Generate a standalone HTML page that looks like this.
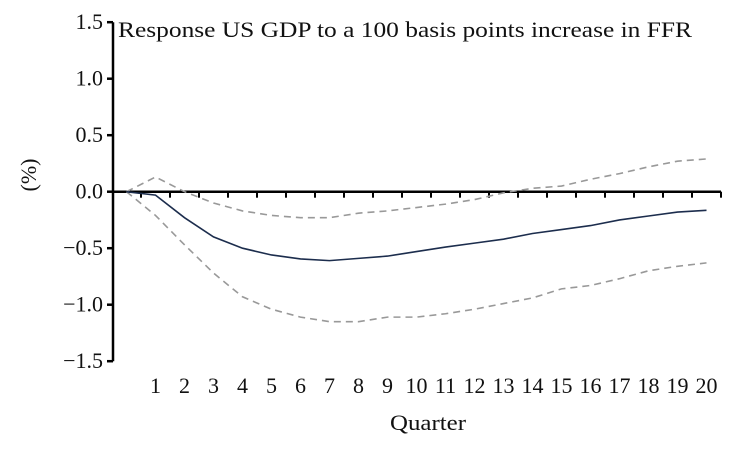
<!DOCTYPE html>
<html><head><meta charset="utf-8"><style>
html,body{margin:0;padding:0;background:#fff;}
svg text{font-family:"Liberation Serif",serif;fill:#111;}
</style></head><body>
<svg id="chart" width="756" height="451" viewBox="0 0 756 451">
<text x="118" y="37" font-size="22" textLength="574" lengthAdjust="spacingAndGlyphs">Response US GDP to a 100 basis points increase in FFR</text>
<text transform="translate(36,175) rotate(-90)" font-size="22" text-anchor="middle">(%)</text>
<text x="428" y="430" font-size="22" text-anchor="middle" textLength="76" lengthAdjust="spacingAndGlyphs">Quarter</text>
<g id="axes"></g>
<g id="series"></g>
</svg>
<script>
const quarters=[0,1,2,3,4,5,6,7,8,9,10,11,12,13,14,15,16,17,18,19,20];
const response=[0,-0.03,-0.23,-0.40,-0.50,-0.56,-0.595,-0.61,-0.59,-0.57,-0.53,-0.49,-0.455,-0.42,-0.37,-0.335,-0.30,-0.25,-0.215,-0.18,-0.165];
const upperBand=[0,0.13,0.0,-0.10,-0.17,-0.21,-0.23,-0.23,-0.19,-0.17,-0.14,-0.11,-0.07,-0.01,0.03,0.05,0.11,0.16,0.22,0.27,0.29];
const lowerBand=[0,-0.21,-0.47,-0.72,-0.93,-1.04,-1.11,-1.15,-1.15,-1.11,-1.11,-1.08,-1.04,-0.99,-0.94,-0.86,-0.83,-0.77,-0.70,-0.66,-0.63];
const yTicks=[1.5,1.0,0.5,0.0,-0.5,-1.0,-1.5];
const yTickLabels=["1.5","1.0","0.5","0.0","\u22120.5","\u22121.0","\u22121.5"];
const xTickLabels=["","1","2","3","4","5","6","7","8","9","10","11","12","13","14","15","16","17","18","19","20"];

const ns="http://www.w3.org/2000/svg";
const x0=112,bw=29,yZero=191.7,yPer=113;
const xs=i=>x0+bw*(i+0.5);
const ys=v=>yZero-v*yPer;
const axes=document.getElementById('axes'),ser=document.getElementById('series');
function mk(tag,attrs,parent){const e=document.createElementNS(ns,tag);for(const k in attrs)e.setAttribute(k,attrs[k]);parent.appendChild(e);return e;}

let yAxis=mk('line',{x1:x0+1,y1:ys(1.5),x2:x0+1,y2:ys(-1.5),stroke:'#000','stroke-width':2.5},axes);


yTicks.forEach((v,i)=>{
  let t=mk('line',{x1:x0-5,y1:ys(v),x2:x0+1,y2:ys(v),stroke:'#000','stroke-width':2.5},axes);
  
  
  let l=mk('text',{x:x0-9,y:ys(v)+7,'font-size':22,'text-anchor':'end'},axes);
  l.textContent=yTickLabels[i];
  
  
});
let xAxis=mk('line',{x1:x0,y1:yZero,x2:x0+bw*quarters.length,y2:yZero,stroke:'#000','stroke-width':2.5},axes);


for(let i=1;i<=quarters.length;i++){
  let t=mk('line',{x1:x0+bw*i,y1:yZero,x2:x0+bw*i,y2:yZero+6,stroke:'#000','stroke-width':2},axes);
  
  
}
quarters.forEach((q,i)=>{
  if(!xTickLabels[i])return;
  let l=mk('text',{x:xs(i),y:393,'font-size':22,'text-anchor':'middle'},axes);
  l.textContent=xTickLabels[i];
  
  
});
function pts(a){return a.map((v,i)=>xs(i)+','+ys(v)).join(' ');}
let u=mk('polyline',{points:pts(upperBand),fill:'none',stroke:'#999','stroke-width':1.6,'stroke-dasharray':'7,5'},ser);


let lo=mk('polyline',{points:pts(lowerBand),fill:'none',stroke:'#999','stroke-width':1.6,'stroke-dasharray':'7,5'},ser);


let r=mk('polyline',{points:pts(response),fill:'none',stroke:'#1c2d4d','stroke-width':1.6},ser);


</script>
</body></html>
